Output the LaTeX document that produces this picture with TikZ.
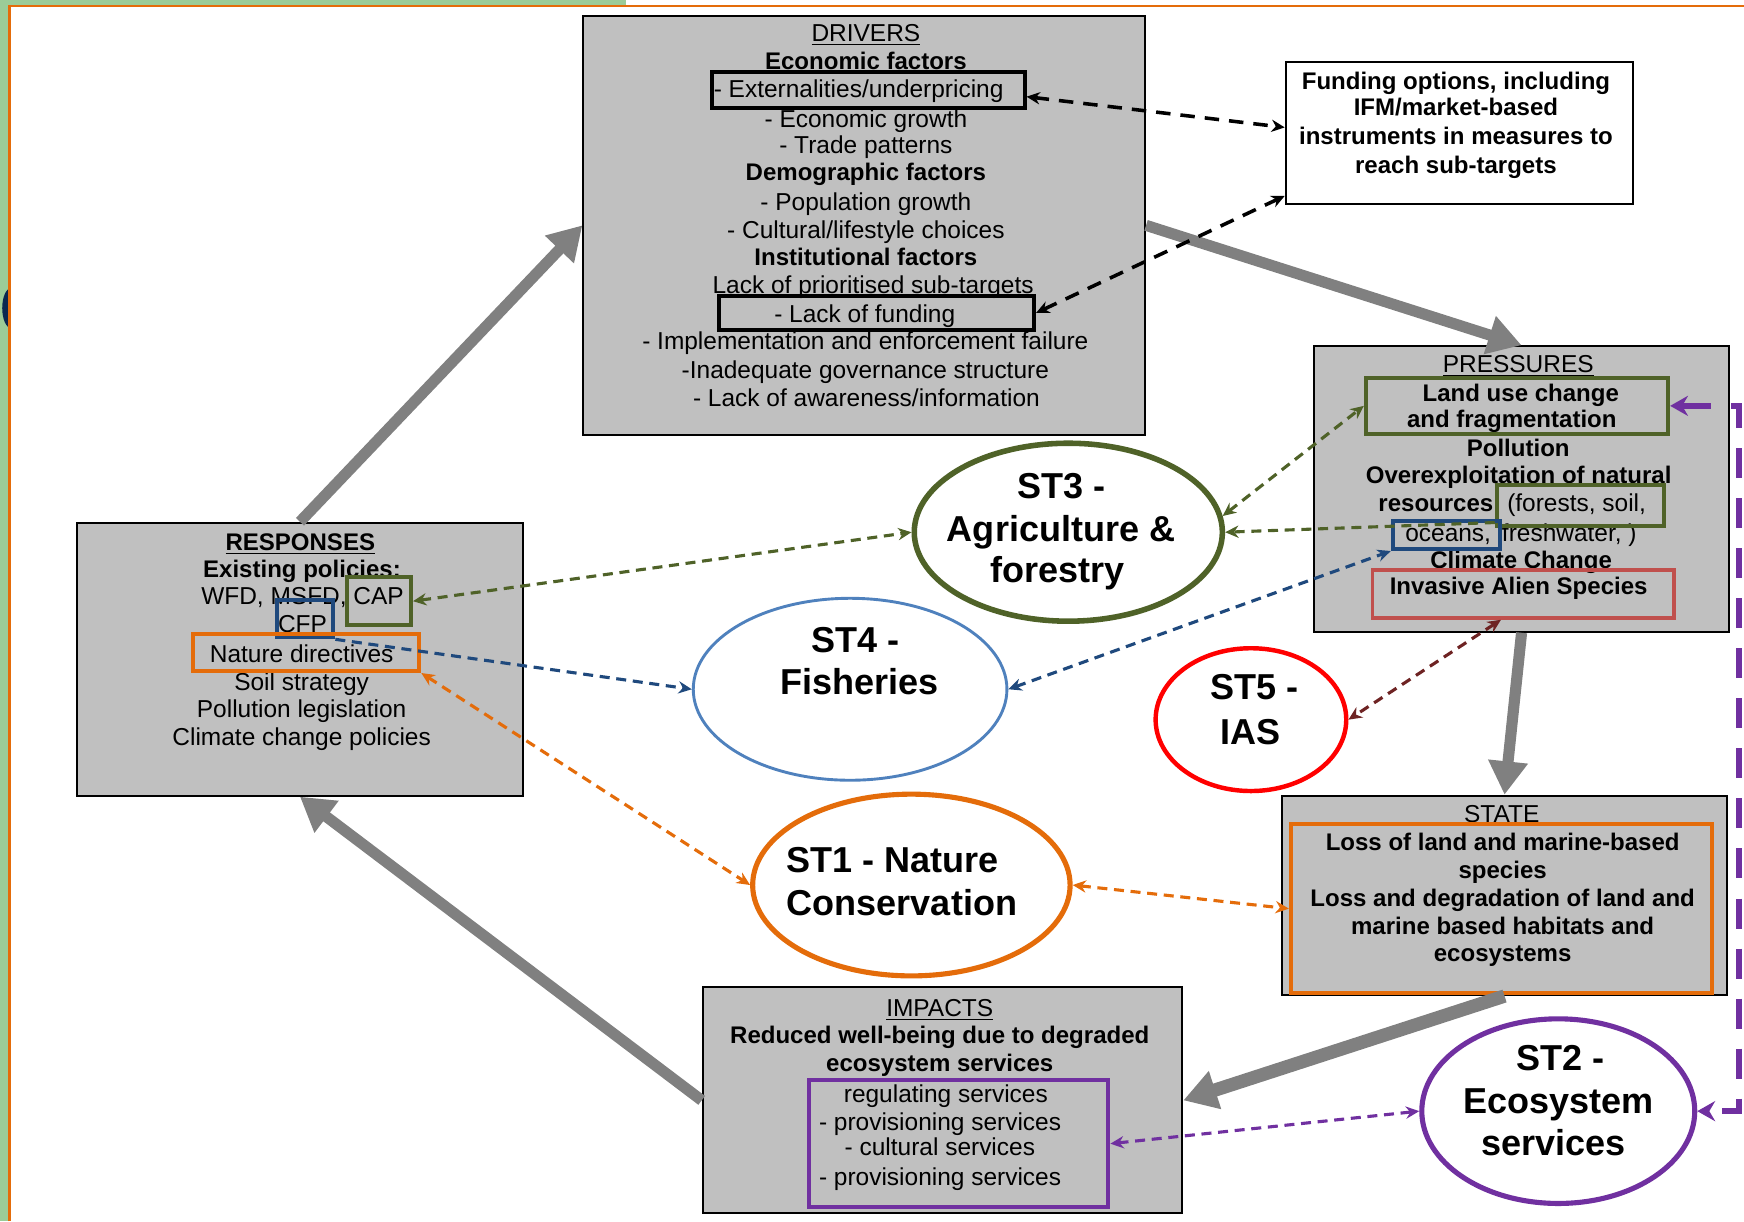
\documentclass[tikz,border=0pt]{standalone}
\usepackage{fontspec}
\setmainfont{Liberation Sans}
\usetikzlibrary{arrows.meta,shapes.geometric,fit}
\definecolor{boxgray}{RGB}{192,192,192}
\definecolor{arrowgray}{RGB}{128,128,128}
\definecolor{olive}{RGB}{79,98,40}
\definecolor{navy}{RGB}{31,73,125}
\definecolor{skyblue}{RGB}{79,129,189}
\definecolor{orng}{RGB}{228,108,10}
\definecolor{brick}{RGB}{192,80,77}
\definecolor{darkred}{RGB}{110,35,35}
\definecolor{purp}{RGB}{112,48,160}
\definecolor{bandgreen}{RGB}{155,204,152}
\definecolor{edgeblue}{RGB}{10,40,80}
\begin{document}
\begin{tikzpicture}[x=0.5pt,y=-0.5pt,
  >={Stealth[length=6pt,width=5.5pt]},
  txt/.style={inner sep=0pt,text height=7.8pt,text depth=0pt,font=\fontsize{11}{13}\selectfont},
  btxt/.style={txt,font=\fontsize{10.8}{13}\selectfont\bfseries},
  big/.style={inner sep=0pt,text height=11.6pt,text depth=0pt,font=\fontsize{16.2}{19}\selectfont\bfseries},
  gbox/.style={draw=black,line width=0.9pt,fill=boxgray,inner sep=0pt},
  hl/.style={draw=#1,line width=1.8pt,inner sep=0pt},
  stell/.style={ellipse,draw=#1,fill=white,inner sep=0pt},
  bigarrow/.style={draw=arrowgray,line width=5pt,-{Triangle[length=15pt,width=17pt]}},
  dsh/.style={draw=#1,line width=1.4pt,dash pattern=on 4.5pt off 3pt},
  bdsh/.style={draw=black,line width=1.6pt,dash pattern=on 6.5pt off 4.5pt},
]
\useasboundingbox (0,0) rectangle (1568,1098);
% frame of the slide
\fill[bandgreen] (0,0) rectangle (7.2,1098);
\fill[bandgreen] (0,0) rectangle (563,4.5);
\begin{scope}
\clip (0,0) rectangle (8,1098);
\fill[edgeblue] (10,277) ellipse [x radius=8, y radius=18];
\end{scope}
\draw[orng,line width=1.2pt] (8.4,1098) -- (8.4,5.4) -- (1568,5.4);

% ---------- DRIVERS ----------
\node[gbox,fit={(524.5,14.1) (1029.5,391.1)}] (drivers) {};
\node[txt]  (d0)  at (778.5,29.2)  {\underline{DRIVERS}};
\node[btxt] (d1)  at (778.5,54.8)  {Economic factors};
\node[txt]  (d2)  at (772,80.3)    {- Externalities/underpricing};
\node[txt]  (d3)  at (778.5,106.4) {- Economic growth};
\node[txt]  (d4)  at (778.5,130.4) {- Trade patterns};
\node[btxt] (d5)  at (778.5,154.9) {Demographic factors};
\node[txt]  (d6)  at (778.5,181.9) {- Population growth};
\node[txt]  (d7)  at (778.5,206.2) {- Cultural/lifestyle choices};
\node[btxt] (d8)  at (778.5,230.7) {Institutional factors};
\node[txt]  (d9)  at (785,256.2)   {Lack of prioritised sub-targets};
\node[txt]  (d10) at (777.5,281.7) {- Lack of funding};
\node[txt]  (d11) at (778,306.3)   {- Implementation and enforcement failure};
\node[txt]  (d12) at (778,332.6)   {-Inadequate governance structure};
\node[txt]  (d13) at (779,357.5)   {- Lack of awareness/information};
\node[hl=black,fit={(640.5,64.4) (921.1,97.4)}] (ext) {};
\node[hl=black,fit={(646.6,266) (929.7,296.7)}] (lof) {};

% ---------- FUNDING ----------
\node[draw=black,line width=0.9pt,fill=white,inner sep=0pt,fit={(1156,55.9) (1468.5,183.2)}] (fund) {};
\node[btxt] (f1) at (1309,72.8)  {Funding options, including};
\node[btxt] (f2) at (1309,96.2)  {IFM/market-based};
\node[btxt] (f3) at (1309,122)   {instruments in measures to};
\node[btxt] (f4) at (1309,147.8) {reach sub-targets};

% ---------- PRESSURES ----------
\node[gbox,fit={(1181.4,311.3) (1554.6,568)}] (pres) {};
\node[txt]  (p0)  at (1365,326.7)   {\underline{PRESSURES}};
\node[btxt] (p1)  at (1367.3,352.9) {Land use change};
\node[btxt] (p2)  at (1359.2,376.6) {and fragmentation};
\node[btxt] (p3)  at (1365,402.8)   {Pollution};
\node[btxt] (p4)  at (1365.4,427.2) {Overexploitation of natural};
\node[btxt,anchor=east] (p5) at (1343,452.3) {resources};
\node[txt]  (p6)  at (1417.5,452.3) {(forests, soil,};
\node[txt]  (p7)  at (1302,479.2)   {oceans,};
\node[txt,anchor=west] (p8) at (1350,479.2) {freshwater, )};
\node[btxt] (p9)  at (1367.6,503.3) {Climate Change};
\node[btxt] (p10) at (1365.4,527)   {Invasive Alien Species};
\node[hl=olive,fit={(1228,339.4) (1499.8,390.4)}] (landuse) {};
\node[hl=olive,fit={(1345.7,436.2) (1496.4,473)}] (forests) {};
\node[hl=navy,fit={(1252.2,468.4) (1348.6,493.6)}] (oceans) {};
\node[hl=brick,line width=1.6pt,fit={(1234,512.5) (1505,555.6)}] (ias) {};

% ---------- RESPONSES ----------
\node[gbox,fit={(68.9,470) (470.5,715.4)}] (resp) {};
\node[btxt] (r0) at (270,486.9)   {\underline{RESPONSES}};
\node[btxt] (r1) at (271.5,511)   {Existing policies:};
\node[txt]  (r2) at (272,535.9)   {WFD, MSFD, CAP};
\node[txt]  (r3) at (272,560.8)   {CFP};
\node[txt]  (r4) at (271.2,587.4) {Nature directives};
\node[txt]  (r5) at (271.2,612.6) {Soil strategy};
\node[txt]  (r6) at (271.2,637.5) {Pollution legislation};
\node[txt]  (r7) at (271.2,662.7) {Climate change policies};
\node[hl=olive,fit={(312.3,519) (369.5,562)}] (cap) {};
\node[hl=navy,fit={(248.7,539.5) (299.7,573)}] (cfp) {};
\node[hl=orng,fit={(173.8,570) (377,603.3)}] (nat) {};

% ---------- STATE ----------
\node[gbox,fit={(1152.4,715.4) (1553,894.6)}] (state) {};
\node[txt]  (s0) at (1350.2,731.3) {\underline{STATE}};
\node[btxt] (s1) at (1351,756.8) {Loss of land and marine-based};
\node[btxt] (s2) at (1351,781.8) {species};
\node[btxt] (s3) at (1351,807.4) {Loss and degradation of land and};
\node[btxt] (s4) at (1351,832)   {marine based habitats and};
\node[btxt] (s5) at (1351,857)   {ecosystems};
\node[hl=orng,fit={(1160.6,740.9) (1539.6,893)}] (stateo) {};

% ---------- IMPACTS ----------
\node[gbox,fit={(631.8,887.7) (1063,1090.9)}] (impacts) {};
\node[txt]  (i0) at (844.9,905.7)  {\underline{IMPACTS}};
\node[btxt] (i1) at (844.9,930)    {Reduced well-being due to degraded};
\node[btxt] (i2) at (844.9,955.5)  {ecosystem services};
\node[txt]  (i3) at (850.4,983.6)  {regulating services};
\node[txt]  (i4) at (845.2,1008.5) {- provisioning services};
\node[txt]  (i5) at (845,1031)     {- cultural services};
\node[txt]  (i6) at (845.2,1058)   {- provisioning services};
\node[hl=purp,fit={(727.7,971) (996.5,1085.5)}] (purpbox) {};

% ---------- ST ellipses ----------
\node[stell=olive,line width=2.5pt,minimum width=138.5pt,minimum height=80pt] (st3) at (960.5,478.5) {};
\node[big] (t3a) at (954,436.6) {ST3 -};
\node[big] (t3b) at (954,475)   {Agriculture \&};
\node[big] (t3c) at (951,512)   {forestry};

\node[stell=skyblue,line width=1.3pt,minimum width=141pt,minimum height=81.8pt] (st4) at (764.3,619.7) {};
\node[big] (t4a) at (769,575.1)   {ST4 -};
\node[big] (t4b) at (772.9,612.9) {Fisheries};

\node[stell=red,line width=2pt,minimum width=85.7pt,minimum height=64.2pt] (st5) at (1124.7,647) {};
\node[big] (t5a) at (1127.5,617.4) {ST5 -};
\node[big] (t5b) at (1124.6,657.9) {IAS};

\node[stell=orng,line width=2.3pt,minimum width=142.7pt,minimum height=81.7pt] (st1) at (819.4,795.7) {};
\node[big,anchor=west] (t1a) at (707,772.5) {ST1 - Nature};
\node[big,anchor=west] (t1b) at (707,811.5) {Conservation};

\node[stell=purp,line width=2.3pt,minimum width=122.7pt,minimum height=83pt] (st2) at (1401,999) {};
\node[big] (t2a) at (1402.6,950.8) {ST2 -};
\node[big] (t2b) at (1401,989.6)   {Ecosystem};
\node[big] (t2c) at (1397,1027)    {services};

% ---------- DPSIR cycle ----------
\draw[bigarrow] (resp.north) -- (drivers.west);
\draw[bigarrow] (drivers.east) -- (pres.north);
\draw[bigarrow] (pres.south) -- (state.north);
\draw[bigarrow,line width=6pt] (state.south) -- (impacts.east);
\draw[bigarrow] (impacts.west) -- (resp.south);

% ---------- dashed links ----------
\draw[bdsh,<->] ([yshift=-3pt]ext.east) -- ([yshift=2.5pt]fund.west);
\draw[bdsh,<->] (lof.east) -- ([yshift=4pt]fund.south west);
\draw[dsh=olive,<->] (cap.east) -- (st3.west);
\draw[dsh=olive,->] ([yshift=2.5pt]forests.south west) -- (st3.east);
\draw[dsh=olive,<->] (st3.6) -- (landuse.west);
\draw[dsh=navy,->] (cfp.south east) -- (st4.west);
\draw[dsh=navy,<->] (st4.east) -- (oceans.south west);
\draw[dsh=orng,<->] (nat.south east) -- (st1.west);
\draw[dsh=orng,<->] (st1.east) -- (stateo.west);
\draw[dsh=darkred,<->] ([xshift=-10pt]ias.south) -- (st5.east);
\draw[dsh=purp,<->] (purpbox.east) -- (st2.west);
\draw[purp,line width=2.6pt,dash pattern=on 13.5pt off 9pt,
      {Stealth[length=8pt,width=9pt]}-{Stealth[length=8pt,width=9pt]}]
      (landuse.east) -- ++(62,0) |- (st2.east);
\end{tikzpicture}
\end{document}
